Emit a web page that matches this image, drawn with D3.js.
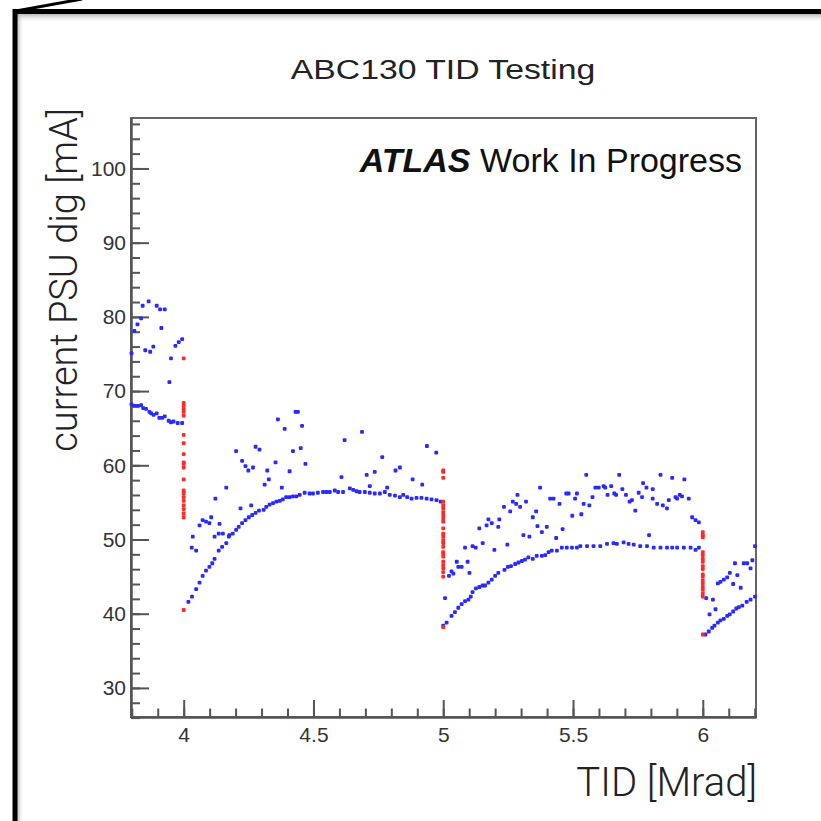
<!DOCTYPE html>
<html>
<head>
<meta charset="utf-8">
<script src="https://cdn.jsdelivr.net/npm/d3@7"></script>
<style>
  body { margin: 0; background: #fff; }
  svg { display: block; }
  .axis text { font-family: "Liberation Sans", Arial, sans-serif; font-size: 21px; fill: #333; }
  .axis path, .axis line { stroke: #555; stroke-width: 2; }
</style>
</head>
<body>
<div id="chart"></div>
<script>
var svgWidth = 821;
var svgHeight = 821;

var plot = { left: 131, right: 756, top: 118, bottom: 717 };

// x range of the pad and y range of the pad
var xDomain = [3.797, 6.205];
var yDomain = [26.08, 106.8];

var xMajor = [4, 4.5, 5, 5.5, 6];
var yMajor = [30, 40, 50, 60, 70, 80, 90, 100];

// TID [Mrad], current [mA], blue markers
var blueSeg1 = [
  [3.842, 81.5], [3.865, 82.1], [3.896, 81.5], [3.909, 81.0], [3.927, 81.0], [3.836, 79.8],
  [3.822, 79.0], [3.810, 78.1], [3.914, 78.5], [3.852, 75.5], [3.871, 75.3], [3.883, 76.0],
  [3.799, 75.1], [3.951, 74.4], [3.968, 76.1], [3.981, 76.6], [3.994, 77.0], [3.945, 71.2],
  [3.799, 68.2], [3.810, 68.0], [3.822, 68.0], [3.836, 68.1], [3.844, 67.7], [3.855, 67.6],
  [3.868, 67.2], [3.875, 67.0], [3.884, 66.8], [3.896, 67.0], [3.906, 66.4], [3.917, 66.4],
  [3.927, 66.6], [3.942, 66.0], [3.951, 65.8], [3.961, 65.9], [3.977, 65.7], [3.994, 65.7]
];

var blueSeg2 = [
  [4.018, 41.6], [4.032, 42.3], [4.048, 43.3], [4.061, 44.2], [4.073, 45.1], [4.086, 45.8],
  [4.099, 46.3], [4.110, 46.8], [4.119, 47.4], [4.135, 48.5], [4.148, 49.0], [4.164, 49.5],
  [4.174, 50.4], [4.189, 50.8], [4.202, 51.3], [4.212, 51.7], [4.225, 52.2], [4.238, 52.6],
  [4.251, 53.0], [4.264, 53.3], [4.277, 53.6], [4.290, 53.9], [4.308, 54.0], [4.318, 54.4],
  [4.331, 54.7], [4.344, 54.9], [4.357, 55.1], [4.370, 55.2], [4.382, 55.4], [4.395, 55.7],
  [4.408, 55.7], [4.421, 55.8], [4.434, 55.8], [4.447, 56.0], [4.466, 56.3], [4.485, 56.2],
  [4.498, 56.2], [4.517, 56.3], [4.537, 56.4], [4.550, 56.4], [4.563, 56.4], [4.582, 56.6],
  [4.595, 56.4], [4.614, 56.4], [4.640, 56.9], [4.653, 56.7], [4.666, 56.5], [4.678, 56.4],
  [4.698, 56.4], [4.717, 56.3], [4.736, 56.2], [4.756, 56.2], [4.775, 56.4], [4.794, 56.0],
  [4.814, 55.9], [4.833, 55.7], [4.846, 56.0], [4.861, 55.7], [4.878, 55.5], [4.897, 55.6],
  [4.916, 55.6], [4.936, 55.5], [4.955, 55.4], [4.974, 55.3], [4.990, 55.1],
  [4.035, 50.4], [4.031, 48.9], [4.048, 48.5], [4.061, 51.9], [4.073, 52.6], [4.086, 52.4],
  [4.099, 52.2], [4.106, 53.0], [4.119, 50.4], [4.122, 55.5], [4.138, 52.1], [4.135, 50.8],
  [4.151, 50.8], [4.164, 57.0], [4.176, 50.6], [4.202, 61.9], [4.219, 54.2], [4.225, 60.6],
  [4.238, 59.9], [4.249, 59.3], [4.260, 54.6], [4.267, 59.7], [4.277, 62.5], [4.292, 62.1],
  [4.312, 57.4], [4.322, 59.3], [4.328, 58.1], [4.354, 60.4], [4.363, 66.2], [4.378, 57.0],
  [4.389, 64.9], [4.408, 59.2], [4.421, 61.9], [4.431, 67.2], [4.440, 67.2], [4.451, 62.3],
  [4.456, 65.3], [4.469, 60.2], [4.608, 58.4], [4.620, 63.4], [4.687, 64.5], [4.705, 58.7],
  [4.717, 57.2], [4.736, 59.1], [4.765, 61.1], [4.784, 57.0], [4.816, 59.3], [4.833, 59.7],
  [4.882, 58.1], [4.919, 57.4], [4.937, 62.6], [4.973, 61.7]
];

var blueSeg3 = [
  [5.000, 38.4], [5.013, 38.8], [5.032, 39.7], [5.045, 40.2], [5.058, 40.8], [5.071, 41.3],
  [5.084, 41.7], [5.097, 41.9], [5.106, 42.3], [5.113, 42.9], [5.126, 43.4], [5.139, 43.6],
  [5.152, 43.8], [5.161, 43.8], [5.174, 44.2], [5.187, 44.6], [5.200, 45.1], [5.212, 45.5],
  [5.236, 45.9], [5.249, 46.3], [5.261, 46.4], [5.277, 46.7], [5.290, 46.9], [5.303, 47.1],
  [5.315, 47.3], [5.328, 47.6], [5.345, 47.4], [5.360, 47.8], [5.380, 47.8], [5.393, 47.9],
  [5.406, 48.3], [5.418, 48.5], [5.438, 48.5], [5.457, 48.9], [5.476, 48.9], [5.496, 48.9],
  [5.515, 48.9], [5.528, 49.1], [5.554, 49.1], [5.579, 49.1], [5.605, 49.1], [5.631, 49.4],
  [5.656, 49.5], [5.669, 49.4], [5.695, 49.6], [5.714, 49.4], [5.734, 49.3], [5.759, 49.1],
  [5.785, 49.1], [5.811, 48.9], [5.837, 48.9], [5.862, 48.9], [5.882, 48.9], [5.901, 48.9],
  [5.927, 48.9], [5.953, 48.9], [5.972, 48.6], [5.985, 48.9],
  [5.007, 42.1], [5.022, 45.1], [5.039, 45.4], [5.032, 45.7], [5.052, 47.0], [5.058, 46.3],
  [5.071, 46.3], [5.094, 47.0], [5.101, 45.5], [5.084, 48.9], [5.113, 49.1], [5.125, 48.9],
  [5.139, 51.5], [5.152, 49.5], [5.167, 51.9], [5.174, 52.7], [5.187, 52.2], [5.197, 48.6],
  [5.212, 51.7], [5.216, 52.7], [5.234, 54.4], [5.247, 49.3], [5.258, 53.8], [5.268, 55.1],
  [5.281, 54.8], [5.286, 56.0], [5.296, 54.4], [5.309, 50.6], [5.319, 55.1], [5.332, 50.4],
  [5.345, 53.0], [5.358, 53.8], [5.363, 51.8], [5.380, 51.0], [5.399, 51.7], [5.373, 57.0],
  [5.412, 55.5], [5.425, 55.5], [5.435, 50.2], [5.448, 54.8], [5.460, 51.4], [5.474, 56.2],
  [5.483, 56.2], [5.497, 53.2], [5.508, 55.5], [5.515, 56.2], [5.532, 53.4], [5.541, 54.8],
  [5.563, 54.6], [5.551, 58.7], [5.575, 55.7], [5.586, 57.0], [5.599, 57.0], [5.618, 57.2],
  [5.624, 57.0], [5.633, 56.0], [5.647, 57.2], [5.659, 56.2], [5.666, 56.0], [5.678, 58.7],
  [5.690, 56.8], [5.704, 56.0], [5.718, 55.1], [5.727, 55.3], [5.740, 53.9], [5.753, 56.3],
  [5.766, 55.7], [5.770, 57.6], [5.783, 57.0], [5.793, 50.6], [5.807, 56.8], [5.807, 55.5],
  [5.824, 54.8], [5.837, 58.7], [5.846, 54.6], [5.862, 54.2], [5.869, 55.3], [5.882, 58.3],
  [5.895, 55.7], [5.901, 55.5], [5.911, 56.0], [5.920, 55.8], [5.929, 58.1], [5.946, 55.5],
  [5.959, 53.0], [5.972, 52.6], [5.985, 52.3]
];

var blueSeg4 = [
  [6.010, 37.2], [6.023, 37.6], [6.036, 38.1], [6.045, 38.4], [6.058, 38.8], [6.068, 39.1],
  [6.081, 39.3], [6.094, 39.7], [6.104, 39.9], [6.117, 40.3], [6.129, 40.7], [6.139, 40.9],
  [6.152, 41.1], [6.169, 41.6], [6.184, 41.9], [6.201, 42.3],
  [6.013, 42.1], [6.039, 41.9], [6.049, 40.6], [6.026, 39.9], [6.058, 44.1], [6.068, 44.3],
  [6.081, 44.6], [6.094, 44.9], [6.104, 45.5], [6.117, 44.0], [6.124, 46.8], [6.133, 45.2],
  [6.146, 43.5], [6.158, 46.8], [6.171, 46.8], [6.184, 46.1], [6.191, 47.2], [6.201, 49.1]
];

// red markers: readings taken while the dose stood still
var redTid = [4, 5, 6];
var redAt4 = [74.4, 68.4, 68.0, 67.6, 67.2, 66.7, 64.1, 63.0, 61.5, 60.4, 60.2, 59.7, 58.1,
  56.6, 56.2, 55.7, 55.2, 54.6, 54.1, 53.5, 53.0, 40.5];
var redAt5 = [59.3, 59.1, 58.3, 55.1, 54.6, 54.2, 53.7, 53.3, 52.8, 52.4, 51.5, 50.8, 50.4,
  49.9, 49.5, 49.0, 48.3, 48.1, 47.7, 47.0, 46.5, 46.1, 45.6, 45.0, 38.2];
var redAt6 = [51.0, 50.6, 50.3, 48.3, 47.9, 47.4, 47.0, 46.4, 46.0, 45.3, 45.0, 44.5, 44.1,
  43.6, 43.2, 42.7, 42.3, 37.2];

var svg = d3.select("#chart")
  .append("svg")
  .attr("width", svgWidth)
  .attr("height", svgHeight);

// the slide frame around the picture
var defs = svg.append("defs");
var gTop = defs.append("linearGradient").attr("id", "shTop").attr("x1", 0).attr("y1", 0).attr("x2", 0).attr("y2", 1);
gTop.append("stop").attr("offset", "0%").attr("stop-color", "#888").attr("stop-opacity", 0.6);
gTop.append("stop").attr("offset", "100%").attr("stop-color", "#fff").attr("stop-opacity", 0);
var gLeft = defs.append("linearGradient").attr("id", "shLeft").attr("x1", 0).attr("y1", 0).attr("x2", 1).attr("y2", 0);
gLeft.append("stop").attr("offset", "0%").attr("stop-color", "#888").attr("stop-opacity", 0.6);
gLeft.append("stop").attr("offset", "100%").attr("stop-color", "#fff").attr("stop-opacity", 0);

svg.append("rect").attr("x", 17).attr("y", 14).attr("width", 804).attr("height", 9).attr("fill", "url(#shTop)");
svg.append("rect").attr("x", 17).attr("y", 14).attr("width", 7).attr("height", 807).attr("fill", "url(#shLeft)");
svg.append("line").attr("x1", 13).attr("y1", 11.5).attr("x2", 821).attr("y2", 11.5)
  .attr("stroke", "#000").attr("stroke-width", 5);
svg.append("line").attr("x1", 15).attr("y1", 9).attr("x2", 15).attr("y2", 821)
  .attr("stroke", "#000").attr("stroke-width", 5);
svg.append("line").attr("x1", 16).attr("y1", 11).attr("x2", 82).attr("y2", -1)
  .attr("stroke", "#000").attr("stroke-width", 3);

var xScale = d3.scaleLinear().domain(xDomain).range([plot.left, plot.right]);
var yScale = d3.scaleLinear().domain(yDomain).range([plot.bottom, plot.top]);

// pad frame
svg.append("rect")
  .attr("x", plot.left)
  .attr("y", plot.top)
  .attr("width", plot.right - plot.left)
  .attr("height", plot.bottom - plot.top)
  .attr("fill", "none")
  .attr("stroke", "#666")
  .attr("stroke-width", 2);

// minor ticks
var xMinor = d3.range(38, 63).map(function(d) { return d / 10; });
var yMinor = d3.range(26, 107, 2);

svg.append("g")
  .attr("class", "axis")
  .attr("transform", "translate(0," + plot.bottom + ")")
  .call(d3.axisBottom(xScale).tickValues(xMinor).tickSize(-8.5).tickSizeOuter(0).tickFormat(""));

svg.append("g")
  .attr("class", "axis")
  .attr("transform", "translate(" + plot.left + ",0)")
  .call(d3.axisLeft(yScale).tickValues(yMinor).tickSize(-9).tickSizeOuter(0).tickFormat(""));

// major ticks + labels
svg.append("g")
  .attr("class", "axis")
  .attr("transform", "translate(0," + plot.bottom + ")")
  .call(d3.axisBottom(xScale).tickValues(xMajor).tickSize(-17).tickSizeOuter(0).tickPadding(10)
    .tickFormat(d3.format("")));

svg.append("g")
  .attr("class", "axis")
  .attr("transform", "translate(" + plot.left + ",0)")
  .call(d3.axisLeft(yScale).tickValues(yMajor).tickSize(-18).tickSizeOuter(0).tickPadding(5));

// markers
var blueAll = blueSeg1.concat(blueSeg2, blueSeg3, blueSeg4);
var redAll = [];
[redAt4, redAt5, redAt6].forEach(function(arr, i) {
  arr.forEach(function(v) { redAll.push([redTid[i], v]); });
});

var mk = 3.8;
svg.append("g")
  .selectAll("rect")
  .data(blueAll)
  .enter()
  .append("rect")
  .attr("x", function(d) { return xScale(d[0]) - mk / 2; })
  .attr("y", function(d) { return yScale(d[1]) - mk / 2; })
  .attr("width", mk)
  .attr("height", mk)
  .attr("rx", 1)
  .attr("fill", "#2a2aff");

svg.append("g")
  .selectAll("rect")
  .data(redAll)
  .enter()
  .append("rect")
  .attr("x", function(d) { return xScale(d[0]) - mk / 2; })
  .attr("y", function(d) { return yScale(d[1]) - mk / 2; })
  .attr("width", mk)
  .attr("height", mk)
  .attr("rx", 1)
  .attr("fill", "#ff2a2a");

// titles
svg.append("g")
  .attr("transform", "translate(443,79) scale(1.25,1)")
  .append("text")
  .text("ABC130 TID Testing")
  .attr("text-anchor", "middle")
  .attr("font-family", "Liberation Sans, Arial, sans-serif")
  .attr("font-size", 27)
  .attr("fill", "#222");

svg.append("text")
  .text("current PSU dig [mA]")
  .attr("transform", "translate(77,280) rotate(-90)")
  .attr("text-anchor", "middle")
  .attr("font-family", "Roboto, Liberation Sans, sans-serif")
  .attr("font-weight", 300)
  .attr("font-size", 38)
  .attr("fill", "#222");

svg.append("text")
  .text("TID [Mrad]")
  .attr("x", 757)
  .attr("y", 796)
  .attr("text-anchor", "end")
  .attr("font-family", "Roboto, Liberation Sans, sans-serif")
  .attr("font-weight", 300)
  .attr("font-size", 40)
  .attr("fill", "#222");

var atlas = svg.append("text")
  .attr("x", 742)
  .attr("y", 172)
  .attr("text-anchor", "end")
  .attr("font-family", "Liberation Sans, Arial, sans-serif")
  .attr("font-size", 34)
  .attr("fill", "#111");
atlas.append("tspan").text("ATLAS").attr("font-weight", "bold").attr("font-style", "italic");
atlas.append("tspan").text(" Work In Progress");
</script>
</body>
</html>
